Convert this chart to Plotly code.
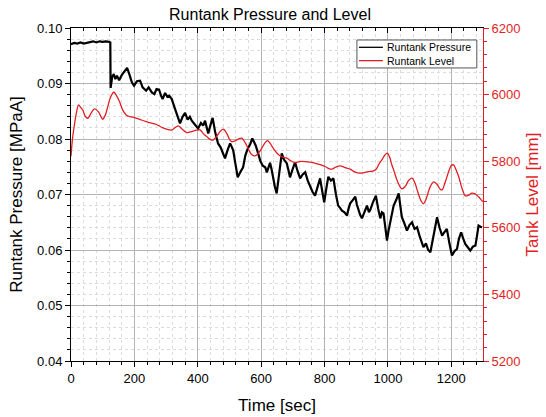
import plotly.graph_objects as go

# ---- data ----
time_p = [0, 10, 20, 30, 40, 50, 60, 70, 80, 90, 100, 110, 120, 124, 125, 130, 135, 140, 145, 152,
          160, 170, 177, 185, 192, 199, 208, 218, 226, 237, 245, 255, 263, 270, 278, 284, 289, 297,
          304, 310, 318, 326, 334, 344, 352, 360, 368, 375, 381, 390, 401, 410, 417, 423, 428, 433,
          440, 447, 455, 464, 472, 479, 486, 494, 502, 508, 512, 518, 526, 534, 543, 550, 558, 565,
          572, 578, 583, 590, 597, 605, 613, 618, 628, 633, 638, 643, 649, 657, 665, 672, 681, 686,
          691, 699, 707, 715, 723, 731, 739, 747, 755, 762, 770, 778, 786, 793, 799, 806, 812, 820,
          828, 836, 843, 849, 855, 863, 871, 876, 881, 889, 897, 902, 907, 912, 918, 926, 934, 940,
          944, 952, 962, 969, 976, 981, 986, 992, 997, 1002, 1007, 1012, 1018, 1026, 1034, 1039,
          1044, 1052, 1060, 1068, 1076, 1084, 1092, 1100, 1106, 1112, 1120, 1127, 1134, 1141, 1148,
          1155, 1163, 1171, 1178, 1186, 1194, 1202, 1210, 1218, 1224, 1231, 1238, 1244, 1252, 1260,
          1268, 1276, 1281, 1286, 1292, 1297]
pressure = [0.0971, 0.0973, 0.0972, 0.0974, 0.0972, 0.0973, 0.0975, 0.0976, 0.0974, 0.0976, 0.0975,
            0.0976, 0.0975, 0.0974, 0.0892, 0.0912, 0.0917, 0.0908, 0.0914, 0.0906, 0.0915, 0.0922,
            0.0928, 0.0915, 0.0902, 0.0896, 0.0904, 0.0905, 0.0893, 0.0887, 0.0893, 0.0884, 0.0881,
            0.0890, 0.0889, 0.0878, 0.0872, 0.0883, 0.0876, 0.0878, 0.0872, 0.0858, 0.0845, 0.0828,
            0.0840, 0.0847, 0.0835, 0.0840, 0.0833, 0.0826, 0.0819, 0.0829, 0.0824, 0.0833, 0.0820,
            0.0810, 0.0825, 0.0838, 0.0812, 0.0792, 0.0785, 0.0776, 0.0765, 0.0780, 0.0792, 0.0785,
            0.0779, 0.0758, 0.0731, 0.0740, 0.0749, 0.0770, 0.0783, 0.0790, 0.0801, 0.0794, 0.0788,
            0.0775, 0.0761, 0.0752, 0.0749, 0.0740, 0.0757, 0.0745, 0.0729, 0.0715, 0.0702, 0.0740,
            0.0774, 0.0763, 0.0756, 0.0744, 0.0731, 0.0745, 0.0758, 0.0742, 0.0729, 0.0736, 0.0740,
            0.0725, 0.0713, 0.0705, 0.0698, 0.0715, 0.0729, 0.0705, 0.0686, 0.0712, 0.0732, 0.0725,
            0.0729, 0.0700, 0.0680, 0.0676, 0.0671, 0.0668, 0.0662, 0.0675, 0.0684, 0.0690, 0.0696,
            0.0682, 0.0671, 0.0664, 0.0657, 0.0670, 0.0680, 0.0668, 0.0672, 0.0685, 0.0698, 0.0675,
            0.0657, 0.0668, 0.0666, 0.0640, 0.0617, 0.0635, 0.0650, 0.0665, 0.0680, 0.0690, 0.0702,
            0.0680, 0.0659, 0.0648, 0.0635, 0.0645, 0.0650, 0.0638, 0.0641, 0.0625, 0.0615, 0.0605,
            0.0612, 0.0600, 0.0596, 0.0615, 0.0640, 0.0659, 0.0640, 0.0626, 0.0632, 0.0638, 0.0612,
            0.0590, 0.0598, 0.0602, 0.0620, 0.0632, 0.0620, 0.0611, 0.0605, 0.0599, 0.0606, 0.0608,
            0.0625, 0.0644, 0.0642, 0.0641]

time_l = [0, 5, 10, 17, 24, 30, 37, 45, 53, 62, 74, 86, 95, 100, 108, 116, 125, 135, 143, 153, 163,
          174, 185, 195, 215, 237, 255, 268, 290, 310, 318, 330, 339, 352, 365, 381, 395, 407, 418,
          428, 440, 449, 462, 472, 481, 492, 500, 507, 520, 530, 539, 550, 560, 570, 581, 592, 602,
          612, 620, 628, 640, 655, 668, 681, 695, 707, 720, 739, 755, 770, 786, 802, 813, 823, 835,
          849, 865, 881, 895, 912, 925, 939, 952, 962, 972, 981, 990, 998, 1006, 1012, 1018, 1030,
          1044, 1055, 1065, 1076, 1085, 1095, 1105, 1112, 1120, 1132, 1144, 1155, 1165, 1171, 1180,
          1192, 1200, 1207, 1215, 1223, 1235, 1244, 1255, 1265, 1275, 1286, 1295, 1300]
level = [5815, 5870, 5904, 5945, 5969, 5962, 5954, 5935, 5929, 5942, 5957, 5949, 5933, 5926, 5938,
         5964, 5993, 6007, 5998, 5979, 5954, 5939, 5934, 5932, 5926, 5919, 5914, 5911, 5900, 5894,
         5894, 5902, 5906, 5895, 5886, 5889, 5893, 5894, 5882, 5874, 5865, 5864, 5878, 5891, 5896,
         5882, 5866, 5859, 5862, 5868, 5869, 5855, 5836, 5820, 5816, 5825, 5839, 5855, 5862, 5854,
         5836, 5819, 5812, 5809, 5800, 5796, 5799, 5799, 5797, 5794, 5790, 5784, 5778, 5776, 5782,
         5786, 5781, 5776, 5768, 5764, 5766, 5769, 5770, 5775, 5792, 5804, 5818, 5824, 5810, 5790,
         5774, 5740, 5717, 5725, 5742, 5749, 5735, 5705, 5680, 5672, 5685, 5720, 5738, 5730, 5716,
         5714, 5735, 5770, 5787, 5789, 5774, 5754, 5715, 5696, 5698, 5704, 5702, 5693, 5683, 5678]

legend_names = ["Runtank Pressure", "Runtank Level"]

RED = "rgb(226,30,36)"
FONT = "Liberation Sans, Arial, sans-serif"

fig = go.Figure()
fig.add_trace(go.Scatter(x=time_p, y=pressure, mode="lines", name=legend_names[0],
                         line=dict(color="black", width=2.2), yaxis="y"))
fig.add_trace(go.Scatter(x=time_l, y=level, mode="lines", name=legend_names[1],
                         line=dict(color=RED, width=1.3, shape="spline", smoothing=1.0), yaxis="y2"))
# invisible trace to anchor the top (mirror) axis
fig.add_trace(go.Scatter(x=[0, 1300], y=[None, None], xaxis="x2", yaxis="y", showlegend=False,
                         hoverinfo="skip", mode="lines", line=dict(width=0)))

minor_grid = dict(showgrid=True, griddash="dot", gridcolor="#dcdcdc", gridwidth=1)

# compact legend box drawn in paper coordinates
shapes = [
    dict(type="rect", xref="paper", yref="paper", x0=0.694, x1=0.985, y0=0.880, y1=0.964,
         line=dict(color="#555", width=1), fillcolor="white", layer="above"),
    dict(type="line", xref="paper", yref="paper", x0=0.699, x1=0.757, y0=0.942, y1=0.942,
         line=dict(color="black", width=1.3), layer="above"),
    dict(type="line", xref="paper", yref="paper", x0=0.699, x1=0.757, y0=0.902, y1=0.902,
         line=dict(color=RED, width=1.3), layer="above"),
]
annotations = [
    dict(text=legend_names[0], xref="paper", yref="paper", x=0.763, y=0.942, xanchor="left",
         yanchor="middle", showarrow=False, font=dict(size=10.5, family=FONT, color="black")),
    dict(text=legend_names[1], xref="paper", yref="paper", x=0.763, y=0.902, xanchor="left",
         yanchor="middle", showarrow=False, font=dict(size=10.5, family=FONT, color="black")),
]

fig.update_layout(
    width=546, height=417,
    margin=dict(l=71, r=63, t=28, b=56, autoexpand=False),
    paper_bgcolor="white", plot_bgcolor="white",
    font=dict(family=FONT, size=13, color="black"),
    title=dict(text="Runtank Pressure and Level", x=270 / 546, xanchor="center",
               y=1 - 14 / 417, yanchor="middle", yref="container",
               font=dict(size=16, family=FONT, color="black")),
    showlegend=False,
    shapes=shapes,
    annotations=annotations,
    xaxis=dict(range=[0, 1300], dtick=200, tick0=0, showline=True, linecolor="black", linewidth=1,
               ticks="outside", ticklen=5, tickcolor="black", showgrid=True, gridcolor="#b4b4b4",
               gridwidth=1, zeroline=False, automargin=False,
               tickfont=dict(size=13),
               title=dict(text="Time [sec]", font=dict(size=17), standoff=14),
               minor=dict(dtick=40, ticks="outside", ticklen=3, tickcolor="black", **minor_grid)),
    xaxis2=dict(range=[0, 1300], overlaying="x", side="top", dtick=200, tick0=0, showline=True,
                linecolor="black", linewidth=1, ticks="inside", ticklen=5, tickcolor="black",
                showticklabels=False, showgrid=False, zeroline=False,
                minor=dict(dtick=40, ticks="inside", ticklen=3, tickcolor="black", showgrid=False)),
    yaxis=dict(range=[0.04, 0.10], dtick=0.01, tick0=0.04, tickformat=".2f", showline=True,
               linecolor="black", linewidth=1, ticks="outside", ticklen=5, tickcolor="black",
               showgrid=True, gridcolor="#b4b4b4", gridwidth=1, zeroline=False, automargin=False,
               tickfont=dict(size=13),
               title=dict(text="Runtank Pressure [MPaA]", font=dict(size=17), standoff=10),
               minor=dict(dtick=0.002, ticks="outside", ticklen=3, tickcolor="black", **minor_grid)),
    yaxis2=dict(range=[5200, 6200], dtick=200, tick0=5200, overlaying="y", side="right",
                showline=True, linecolor=RED, linewidth=1, ticks="outside", ticklen=5,
                tickcolor=RED, tickfont=dict(size=13, color=RED), showgrid=False, zeroline=False,
                automargin=False,
                title=dict(text="Tank Level [mm]", font=dict(size=17, color=RED), standoff=6),
                minor=dict(dtick=40, ticks="outside", ticklen=3, tickcolor=RED, showgrid=False)),
)

fig.write_html("out.html", config={"displayModeBar": False},
               post_script="document.body.style.margin='0';")
